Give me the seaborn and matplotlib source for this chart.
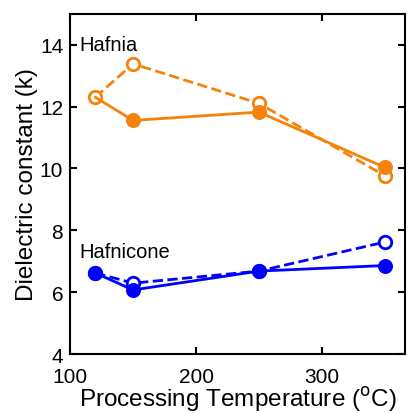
import matplotlib
matplotlib.use("Agg")
import matplotlib.pyplot as plt
import seaborn as sns

temps = [120, 150, 250, 350]
hafnia_solid = [12.3, 11.55, 11.82, 10.03]
hafnia_dash = [12.3, 13.38, 12.1, 9.76]
hafnicone_solid = [6.62, 6.07, 6.68, 6.86]
hafnicone_dash = [6.62, 6.29, 6.68, 7.62]

orange = "#F5820A"
blue = "#0000FF"

sns.set_style("ticks")
plt.rcParams["font.family"] = ["Liberation Sans", "DejaVu Sans"]
plt.rcParams.update({"text.color": "black", "axes.labelcolor": "black",
                     "xtick.color": "black", "ytick.color": "black",
                     "axes.edgecolor": "black"})

fig = plt.figure(figsize=(4.1, 4.14), dpi=100)
ax = fig.add_axes([0.171, 0.1425, 0.817, 0.822])

# Hafnia
sns.lineplot(x=temps, y=hafnia_dash, ax=ax, color=orange, linestyle="--", lw=2,
             marker="o", markersize=9, markerfacecolor="white",
             markeredgecolor=orange, markeredgewidth=2, sort=False)
sns.lineplot(x=temps, y=hafnia_solid, ax=ax, color=orange, lw=2,
             marker="o", markersize=10, markevery=[1, 2, 3],
             markeredgecolor=orange, sort=False)

# Hafnicone
sns.lineplot(x=temps, y=hafnicone_dash, ax=ax, color=blue, linestyle="--", lw=2,
             marker="o", markersize=9, markerfacecolor="white",
             markeredgecolor=blue, markeredgewidth=2, sort=False)
sns.lineplot(x=temps, y=hafnicone_solid, ax=ax, color=blue, lw=2,
             marker="o", markersize=10, markeredgecolor=blue, sort=False)

ax.text(107, 14, "Hafnia", fontsize=14.5, va="center", ha="left")
ax.text(107, 7.3, "Hafnicone", fontsize=14.5, va="center", ha="left")

ax.set_xlim(100, 366)
ax.set_ylim(4, 15)
ax.set_xticks([100, 200, 300])
ax.set_yticks([4, 6, 8, 10, 12, 14])
ax.tick_params(direction="in", top=True, right=True, labelsize=15, length=5, width=1.5)
ax.tick_params(axis="x", pad=9)
ax.tick_params(axis="y", pad=5)
for s in ax.spines.values():
    s.set_linewidth(1.5)
    s.set_visible(True)
ax.set_xlabel("Processing Temperature ($^{\\mathrm{o}}$C)", fontsize=17.5, labelpad=-1)
ax.set_ylabel("Dielectric constant (k)", fontsize=17.5, labelpad=1)

fig.savefig("out.png", dpi=100)
